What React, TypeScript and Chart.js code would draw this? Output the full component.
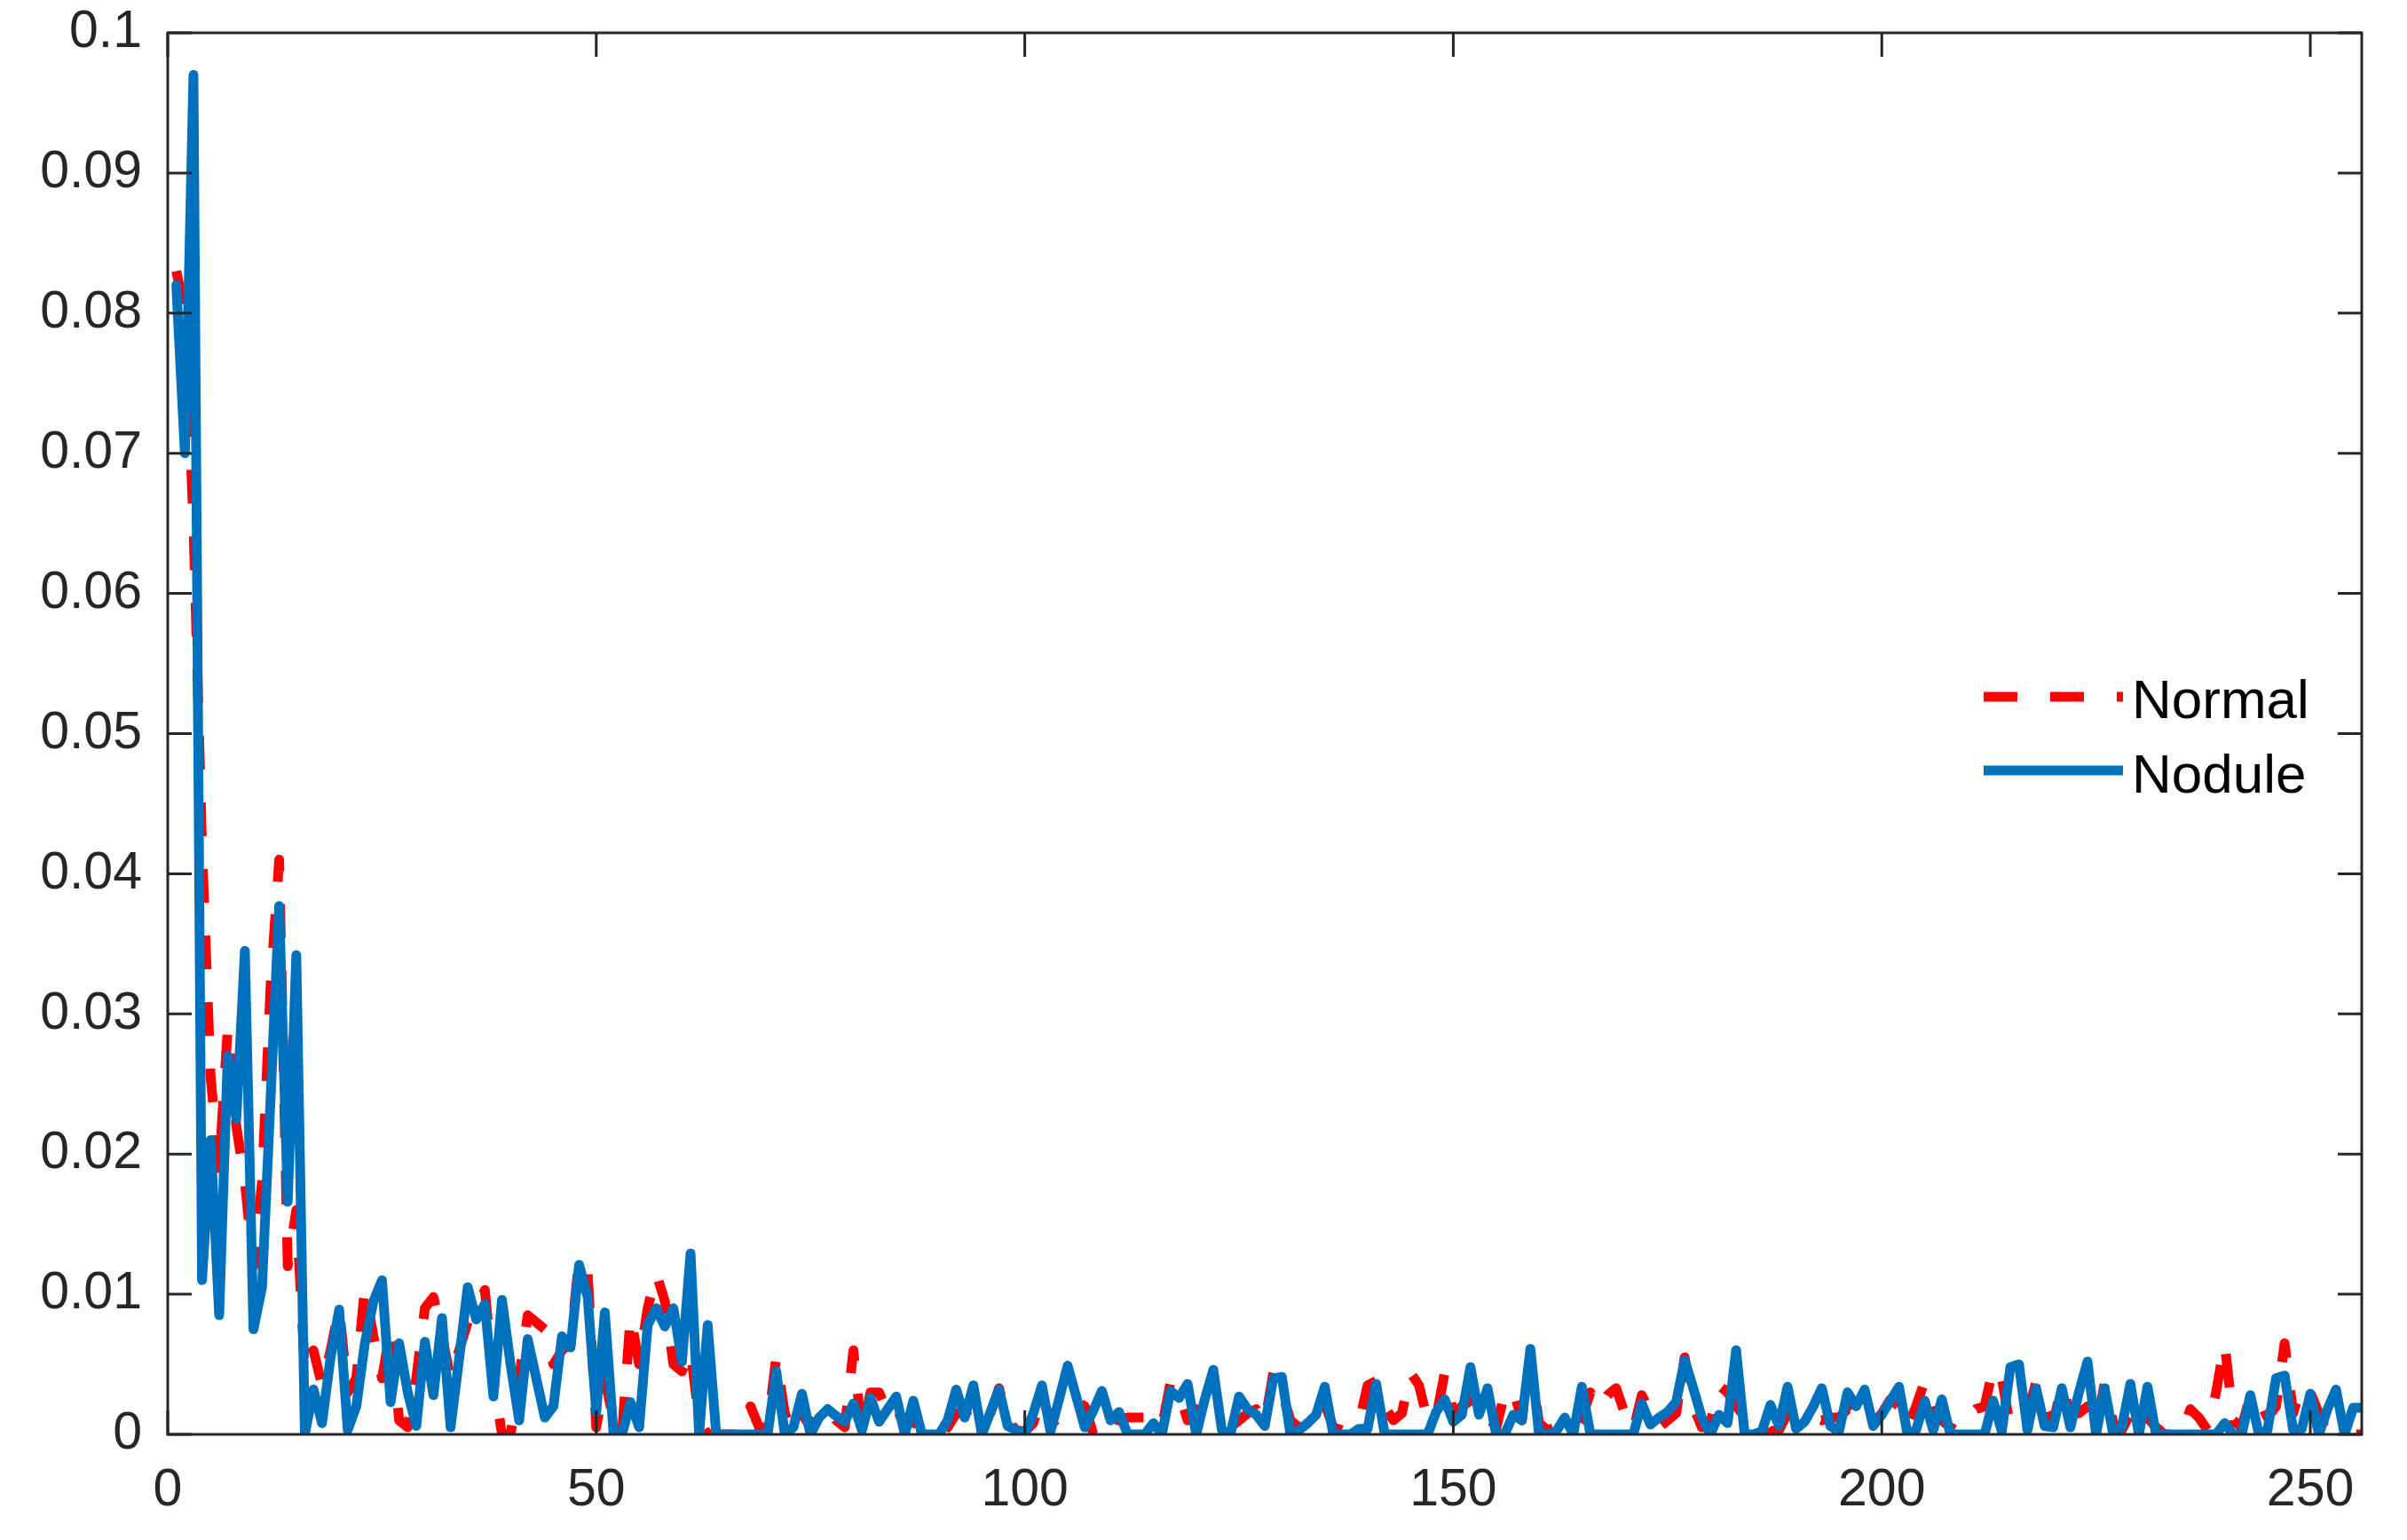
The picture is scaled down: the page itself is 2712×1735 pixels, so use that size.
import React, { useEffect, useRef } from "react";
import { Chart, registerables } from "chart.js";

Chart.register(...registerables);

const xTicks = [0, 50, 100, 150, 200, 250];
const xTickLabels = ["0", "50", "100", "150", "200", "250"];
const yTicks = [0, 0.01, 0.02, 0.03, 0.04, 0.05, 0.06, 0.07, 0.08, 0.09, 0.1];
const yTickLabels = ["0", "0.01", "0.02", "0.03", "0.04", "0.05", "0.06", "0.07", "0.08", "0.09", "0.1"];
const seriesNames = ["Normal", "Nodule"];

// Normal (red dashed), bins 1..256
const normal = [
  0.083, 0.08, 0.065, 0.042, 0.0255, 0.019, 0.029, 0.022, 0.018, 0.012,
  0.018, 0.032, 0.041, 0.012, 0.016, 0.0045, 0.006, 0.0035, 0.006, 0.009,
  0.003, 0.004, 0.0105, 0.007, 0.004, 0.0075, 0.001, 0.0005, 0.004, 0.009,
  0.0098, 0.007, 0.004, 0.006, 0.008, 0.0088, 0.0103, 0.004, 0.0, 0.0,
  0.004, 0.0085, 0.008, 0.0075, 0.005, 0.006, 0.0065, 0.0125, 0.0115, 0.0005,
  0.004, 0.001, 0.0, 0.0085, 0.005, 0.009, 0.0115, 0.0095, 0.005, 0.0045,
  0.006, 0.001, 0.0, 0.0, 0.0, 0.0, 0.0, 0.002, 0.0005, 0.0005,
  0.0055, 0.0015, 0.0, 0.0015, 0.0005, 0.0015, 0.002, 0.001, 0.0005, 0.006,
  0.0, 0.003, 0.003, 0.0015, 0.002, 0.0005, 0.001, 0.0002, 0.0, 0.0,
  0.0005, 0.0015, 0.0015, 0.001, 0.0005, 0.0015, 0.0033, 0.001, 0.0003, 0.0002,
  0.0008, 0.003, 0.0007, 0.0012, 0.0018, 0.0024, 0.002, 0.0, 0.0015, 0.0012,
  0.001, 0.0012, 0.0012, 0.0012, 0.0005, 0.0005, 0.0037, 0.003, 0.001, 0.0018,
  0.0012, 0.0008, 0.001, 0.0005, 0.001, 0.0015, 0.0018, 0.0008, 0.0044, 0.003,
  0.001, 0.0005, 0.0015, 0.002, 0.0022, 0.0005, 0.0003, 0.0005, 0.0008, 0.0035,
  0.0038, 0.002, 0.001, 0.0015, 0.0044, 0.0035, 0.001, 0.0012, 0.0044, 0.0015,
  0.002, 0.0024, 0.0025, 0.0015, 0.0004, 0.003, 0.0032, 0.001, 0.0055, 0.0008,
  0.0003, 0.0005, 0.0005, 0.0002, 0.0012, 0.003, 0.0018, 0.0028, 0.0033, 0.0015,
  0.0003, 0.0028, 0.0015, 0.0005, 0.001, 0.0015, 0.0055, 0.002, 0.0005, 0.0008,
  0.0035, 0.003, 0.002, 0.0013, 0.0013, 0.0012, 0.0002, 0.0003, 0.0015, 0.0016,
  0.0014, 0.0012, 0.001, 0.0012, 0.0012, 0.0018, 0.0012, 0.001, 0.0008, 0.0015,
  0.0025, 0.002, 0.0005, 0.002, 0.0038, 0.0015, 0.001, 0.0005, 0.0002, 0.0012,
  0.0018, 0.002, 0.0048, 0.004, 0.0005, 0.0008, 0.0015, 0.0037, 0.0025, 0.0008,
  0.0035, 0.0015, 0.0015, 0.002, 0.0005, 0.0036, 0.0008, 0.0003, 0.0015, 0.0003,
  0.0012, 0.0005, 0.0, 0.0, 0.0, 0.0018, 0.0012, 0.0003, 0.003, 0.0065,
  0.001, 0.0005, 0.0028, 0.0025, 0.0012, 0.002, 0.0065, 0.0015, 0.0036, 0.003,
  0.0015, 0.001, 0.001, 0.0005, 0.0, 0.0,
];

// Nodule (blue solid), bins 1..256
const nodule = [
  0.082, 0.07, 0.097, 0.011, 0.021, 0.0085, 0.027, 0.0225, 0.0345, 0.0075,
  0.0105, 0.024, 0.0377, 0.0166, 0.0342, 0.0, 0.0032, 0.0008, 0.0055, 0.0089,
  0.0003, 0.002, 0.0065, 0.0095, 0.011, 0.0023, 0.0065, 0.003, 0.0006, 0.0066,
  0.0028, 0.0083, 0.0005, 0.0054, 0.0105, 0.0082, 0.0093, 0.0027, 0.0096, 0.005,
  0.001, 0.0068, 0.004, 0.0012, 0.002, 0.007, 0.0062, 0.0121, 0.0098, 0.0016,
  0.0087, 0.0002, 0.0, 0.0023, 0.0005, 0.0078, 0.009, 0.0077, 0.009, 0.0052,
  0.0129, 0.0, 0.0078, 0.0, 0.0, 0.0, 0.0, 0.0, 0.0, 0.0,
  0.0045, 0.0, 0.0005, 0.0029, 0.0, 0.0012, 0.0018, 0.0013, 0.0009, 0.0022,
  0.0003, 0.0026, 0.0009, 0.0018, 0.0027, 0.0, 0.0024, 0.0, 0.0, 0.0,
  0.001, 0.0032, 0.0012, 0.0035, 0.0, 0.0016, 0.0032, 0.0006, 0.0003, 0.0,
  0.0015, 0.0035, 0.0002, 0.0025, 0.0049, 0.0027, 0.0005, 0.0017, 0.0031, 0.001,
  0.0016, 0.0, 0.0, 0.0, 0.0008, 0.0, 0.0031, 0.0026, 0.0036, 0.0,
  0.0025, 0.0046, 0.0003, 0.0, 0.0027, 0.0018, 0.0014, 0.0006, 0.004, 0.0041,
  0.0, 0.0003, 0.0008, 0.0014, 0.0034, 0.0, 0.0, 0.0, 0.0004, 0.0004,
  0.0036, 0.0, 0.0, 0.0, 0.0, 0.0, 0.0, 0.0016, 0.0025, 0.0009,
  0.0014, 0.0048, 0.0014, 0.0033, 0.0, 0.0, 0.0014, 0.001, 0.0061, 0.0,
  0.0, 0.0002, 0.0012, 0.0, 0.0034, 0.0, 0.0, 0.0, 0.0, 0.0,
  0.0, 0.0022, 0.0007, 0.0012, 0.0016, 0.0023, 0.0053, 0.0033, 0.0012, 0.0,
  0.0014, 0.0008, 0.006, 0.0, 0.0, 0.0002, 0.0021, 0.0006, 0.0034, 0.0004,
  0.0009, 0.002, 0.0033, 0.0006, 0.0002, 0.003, 0.002, 0.0032, 0.0006, 0.0014,
  0.0024, 0.0034, 0.0, 0.0003, 0.0024, 0.0003, 0.0025, 0.0, 0.0, 0.0,
  0.0, 0.0, 0.0024, 0.0002, 0.0048, 0.005, 0.0003, 0.0033, 0.0006, 0.0005,
  0.0033, 0.0005, 0.003, 0.0052, 0.0, 0.0033, 0.0, 0.0005, 0.0036, 0.0,
  0.0034, 0.0, 0.0, 0.0, 0.0, 0.0, 0.0, 0.0, 0.0, 0.0008,
  0.0, 0.0, 0.0028, 0.0, 0.0003, 0.004, 0.0042, 0.0003, 0.0004, 0.0029,
  0.0, 0.0018, 0.0032, 0.0, 0.0019, 0.0019,
];

const RED = "#FF0000";
const BLUE = "#0072BD";
const AXIS = "#262626";
const FONT = "'Liberation Sans', Arial, Helvetica, sans-serif";

const boxPlugin = {
  id: "matlabBox",
  afterDatasetsDraw(chart: any) {
    const { ctx, chartArea: a, scales } = chart;
    ctx.save();
    ctx.strokeStyle = AXIS;
    ctx.lineWidth = 3;
    ctx.setLineDash([]);
    ctx.lineCap = "butt";
    ctx.strokeRect(a.left, a.top, a.right - a.left, a.bottom - a.top);
    const tl = 27;
    ctx.beginPath();
    xTicks.forEach((v) => {
      const px = scales.x.getPixelForValue(v);
      ctx.moveTo(px, a.bottom);
      ctx.lineTo(px, a.bottom - tl);
      ctx.moveTo(px, a.top);
      ctx.lineTo(px, a.top + tl);
    });
    yTicks.forEach((v) => {
      const py = scales.y.getPixelForValue(v);
      ctx.moveTo(a.left, py);
      ctx.lineTo(a.left + tl, py);
      ctx.moveTo(a.right, py);
      ctx.lineTo(a.right - tl, py);
    });
    ctx.stroke();
    ctx.restore();
  },
};

const legendPlugin = {
  id: "matlabLegend",
  afterDraw(chart: any) {
    const { ctx, chartArea: a } = chart;
    ctx.save();
    const x0 = a.right - 426;
    const x1 = a.right - 269;
    const tx = a.right - 259;
    const rows = [
      { y: a.top + 748, base: a.top + 772, color: RED, dash: [38, 37], name: seriesNames[0] },
      { y: a.top + 831, base: a.top + 856, color: BLUE, dash: [], name: seriesNames[1] },
    ];
    rows.forEach((r) => {
      ctx.strokeStyle = r.color;
      ctx.lineWidth = 11;
      ctx.lineCap = "butt";
      ctx.setLineDash(r.dash);
      ctx.beginPath();
      ctx.moveTo(x0, r.y);
      ctx.lineTo(x1, r.y);
      ctx.stroke();
      ctx.setLineDash([]);
      ctx.fillStyle = "#000000";
      ctx.font = `62px ${FONT}`;
      ctx.textAlign = "left";
      ctx.textBaseline = "alphabetic";
      ctx.fillText(r.name, tx, r.base);
    });
    ctx.restore();
  },
};

export default function App() {
  const ref = useRef<HTMLCanvasElement>(null);

  useEffect(() => {
    if (!ref.current) return;
    const chart = new Chart(ref.current, {
      type: "line",
      data: {
        datasets: [
          {
            label: seriesNames[0],
            data: normal.map((v, i) => ({ x: i + 1, y: v })),
            borderColor: RED,
            backgroundColor: RED,
            borderWidth: 11,
            borderDash: [38, 37],
            borderCapStyle: "butt",
            borderJoinStyle: "round",
            pointRadius: 0,
            tension: 0,
            fill: false,
            order: 2,
          },
          {
            label: seriesNames[1],
            data: nodule.map((v, i) => ({ x: i + 1, y: v })),
            borderColor: BLUE,
            backgroundColor: BLUE,
            borderWidth: 11,
            borderCapStyle: "round",
            borderJoinStyle: "round",
            pointRadius: 0,
            tension: 0,
            fill: false,
            order: 1,
          },
        ],
      },
      options: {
        responsive: false,
        animation: false,
        devicePixelRatio: 1,
        layout: { padding: { top: 37, right: 51, left: 0, bottom: 0 } },
        plugins: {
          legend: { display: false },
          tooltip: { enabled: false },
          title: { display: false },
        },
        scales: {
          x: {
            type: "linear",
            position: "bottom",
            min: 0,
            max: 256,
            grid: { display: false, drawTicks: false },
            border: { display: false },
            afterBuildTicks: (scale: any) => {
              scale.ticks = xTicks.map((v) => ({ value: v }));
            },
            afterFit: (scale: any) => {
              scale.height = 1735 - 1616;
              scale.paddingLeft = 0;
              scale.paddingRight = 0;
            },
            ticks: {
              autoSkip: false,
              maxRotation: 0,
              minRotation: 0,
              padding: 28,
              color: AXIS,
              font: { family: FONT, size: 59 },
              callback: (v: any) => {
                const i = xTicks.indexOf(Number(v));
                return i >= 0 ? xTickLabels[i] : "";
              },
            },
          },
          y: {
            type: "linear",
            min: 0,
            max: 0.1,
            grid: { display: false, drawTicks: false },
            border: { display: false },
            afterBuildTicks: (scale: any) => {
              scale.ticks = yTicks.map((v) => ({ value: v }));
            },
            afterFit: (scale: any) => {
              scale.width = 189;
              scale.paddingTop = 0;
              scale.paddingBottom = 0;
            },
            ticks: {
              autoSkip: false,
              padding: 29,
              color: AXIS,
              font: { family: FONT, size: 59 },
              callback: (v: any) => {
                const i = Math.round(Number(v) * 100);
                return yTickLabels[i] ?? "";
              },
            },
          },
        },
      },
      plugins: [boxPlugin, legendPlugin],
    });
    return () => chart.destroy();
  }, []);

  return (
    <div style={{ position: "fixed", left: 0, top: 0, width: 2712, height: 1735, background: "#ffffff" }}>
      <canvas ref={ref} width={2712} height={1735} style={{ display: "block", width: 2712, height: 1735 }} />
    </div>
  );
}
